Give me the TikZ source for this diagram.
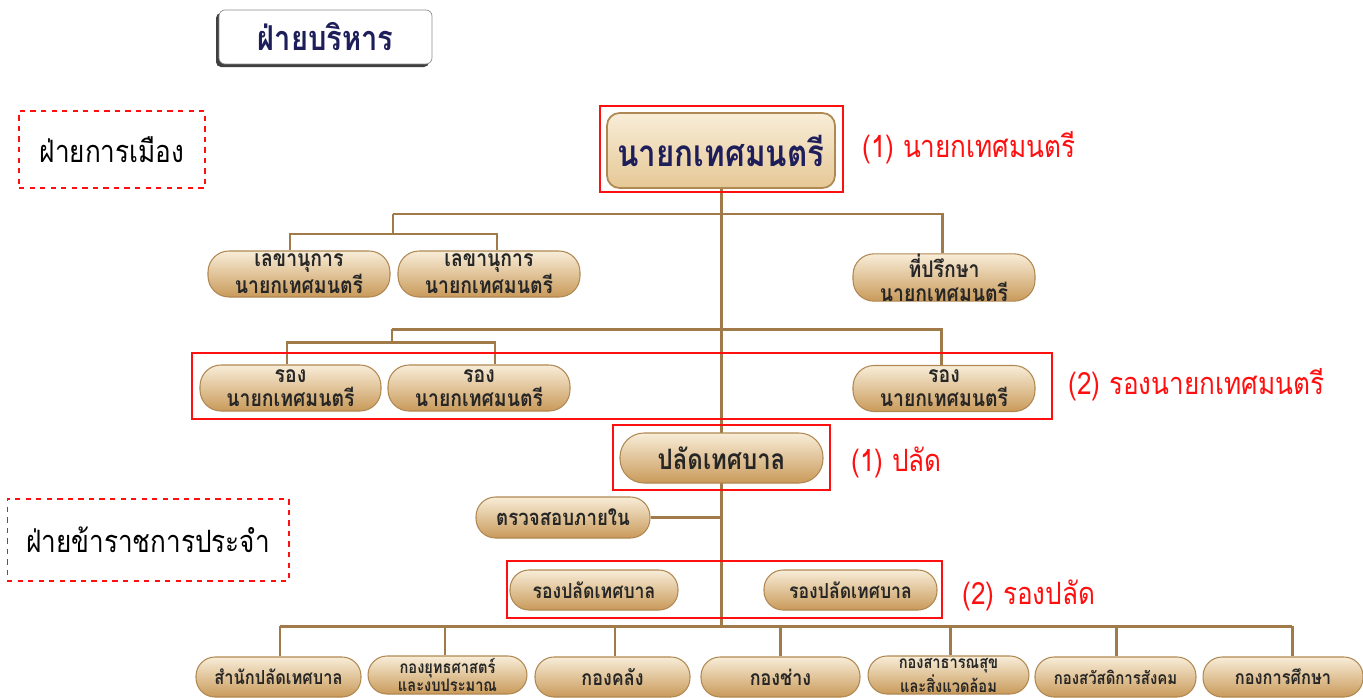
\documentclass[tikz,border=0pt]{standalone}
\usepackage{fontspec}
\setmainfont[Script=Thai,FakeStretch=0.85]{Loma}
\usetikzlibrary{calc}
\pgfdeclarelayer{bottom}
\pgfdeclarelayer{background}
\pgfsetlayers{bottom,background,main}
\definecolor{conn}{HTML}{A07A48}
\definecolor{pilltop}{HTML}{F8EDD8}
\definecolor{pillmid}{HTML}{EDD3A4}
\definecolor{pillbot}{HTML}{C99A5A}
\definecolor{pilledge}{HTML}{B08852}
\definecolor{navy}{HTML}{1E1E5A}
\definecolor{ink}{HTML}{262626}
\definecolor{redc}{HTML}{FF1010}
\tikzset{
  pill/.style={rounded corners=0.42cm, top color=pilltop, middle color=pillmid, bottom color=pillbot,
     draw=pilledge, line width=0.6pt, text=ink, font=\bfseries\fontsize{13}{13.5}\selectfont,
     align=center, inner sep=0pt, minimum height=0.92cm},
  conline/.style={draw=conn, line width=1.7pt},
  redbox/.style={draw=redc, line width=1.3pt},
  dashbox/.style={draw=redc, dashed, line width=0.6pt, inner sep=0pt, font=\fontsize{17.5}{20}\selectfont},
  redlabel/.style={text=redc, anchor=west, inner sep=0pt, font=\fontsize{17.5}{20}\selectfont}
}
\begin{document}
\begin{tikzpicture}[x=0.02cm,y=-0.02cm]
\begin{pgfonlayer}{bottom}
\fill[white] (0,0) rectangle (1363,697);
\end{pgfonlayer}
\useasboundingbox (0,0) rectangle (1363,697);
% title
\fill[black!75, rounded corners=0.1cm] (216,13) rectangle (429,67);
\node[draw=black!45, fill=white, rounded corners=0.12cm, minimum width=4.26cm, minimum height=1.08cm,
  text=navy, font=\bfseries\fontsize{19.5}{22}\selectfont] (title) at (325.5,37) {ฝ่ายบริหาร};
% dashed boxes
\node[dashbox, minimum width=3.72cm, minimum height=1.54cm] (pol) at (112,149.5) {ฝ่ายการเมือง};
\node[dashbox, minimum width=5.64cm, minimum height=1.64cm] (civ) at (148,540) {ฝ่ายข้าราชการประจำ};
% mayor
\node[rounded corners=0.25cm, top color=pilltop, bottom color=pillmid!80!pillbot, draw=pilledge, line width=1pt,
  minimum width=4.56cm, minimum height=1.5cm, text=navy, font=\bfseries\fontsize{21}{24}\selectfont] (mayor) at (721,150.5) {นายกเทศมนตรี};
\node[redbox, minimum width=4.86cm, minimum height=1.72cm] (mayorR) at (721.5,149) {};
\node[redlabel] (l1) at (862,148) {(1) นายกเทศมนตรี};
% secretaries / advisor
\node[pill, minimum width=3.64cm] (sec1) at (299,274) {เลขานุการ\\นายกเทศมนตรี};
\node[pill, minimum width=3.64cm] (sec2) at (489,274) {เลขานุการ\\นายกเทศมนตรี};
\node[pill, minimum width=3.64cm] (adv) at (944,277.5) {ที่ปรึกษา\\นายกเทศมนตรี};
% deputies
\node[pill, minimum width=3.62cm] (dep1) at (290.5,388) {รอง\\นายกเทศมนตรี};
\node[pill, minimum width=3.64cm] (dep2) at (479,388) {รอง\\นายกเทศมนตรี};
\node[pill, minimum width=3.64cm] (dep3) at (944,388.5) {รอง\\นายกเทศมนตรี};
\node[redbox, minimum width=17.2cm, minimum height=1.32cm] (depR) at (622,386) {};
\node[redlabel] (l2) at (1068,385) {(2) รองนายกเทศมนตรี};
% palat
\node[pill, minimum width=4.06cm, minimum height=1.0cm, rounded corners=0.48cm, font=\bfseries\fontsize{16}{18}\selectfont] (palat) at (721.5,458) {ปลัดเทศบาล};
\node[redbox, minimum width=4.34cm, minimum height=1.3cm] (palatR) at (721.5,457.5) {};
\node[redlabel] (l3) at (851,462) {(1) ปลัด};
% audit
\node[pill, minimum width=3.48cm, minimum height=0.82cm, rounded corners=0.39cm, font=\bfseries\fontsize{12.5}{14}\selectfont] (audit) at (563,517.5) {ตรวจสอบภายใน};
% deputy palat
\node[pill, minimum width=3.36cm, minimum height=0.8cm, rounded corners=0.38cm, font=\bfseries\fontsize{11.8}{14}\selectfont] (dp1) at (594,590) {รองปลัดเทศบาล};
\node[pill, minimum width=3.46cm, minimum height=0.8cm, rounded corners=0.38cm, font=\bfseries\fontsize{11.8}{14}\selectfont] (dp2) at (850.5,590) {รองปลัดเทศบาล};
\node[redbox, minimum width=8.7cm, minimum height=1.14cm] (dpR) at (724.5,589.5) {};
\node[redlabel] (l4) at (962,595) {(2) รองปลัด};
% bottom divisions
\tikzset{bpill/.style={pill, minimum height=0.8cm, rounded corners=0.38cm, font=\bfseries\fontsize{11}{12}\selectfont}}
\node[bpill, minimum width=3.3cm] (b1) at (278.5,677) {สำนักปลัดเทศบาล};
\node[bpill, minimum width=3.18cm, minimum height=0.76cm, font=\bfseries\fontsize{9.8}{8.8}\selectfont] (b2) at (447.5,675) {กองยุทธศาสตร์\\และงบประมาณ};
\node[bpill, minimum width=3.1cm, font=\bfseries\fontsize{12}{12}\selectfont] (b3) at (612.5,677) {กองคลัง};
\node[bpill, minimum width=3.18cm, font=\bfseries\fontsize{12}{12}\selectfont] (b4) at (780.5,677) {กองช่าง};
\node[bpill, minimum width=3.22cm, minimum height=0.76cm, font=\bfseries\fontsize{9.8}{8.8}\selectfont] (b5) at (948.5,675) {กองสาธารณสุข\\และสิ่งแวดล้อม};
\node[bpill, minimum width=3.22cm, font=\bfseries\fontsize{10}{12}\selectfont] (b6) at (1115.5,677) {กองสวัสดิการสังคม};
\node[bpill, minimum width=3.2cm, font=\bfseries\fontsize{11}{12}\selectfont] (b7) at (1283,677) {กองการศึกษา};
% connectors
\coordinate (tb) at (721,626);
\coordinate (h1l) at (393,214);
\coordinate (h1r) at (942,214);
\coordinate (h1m) at (393,234);
\coordinate (s1) at (290,234);
\coordinate (s2) at (497,234);
\coordinate (h2l) at (392,329);
\coordinate (h2r) at (941,329);
\coordinate (h2m) at (392,342);
\coordinate (d1) at (287,342);
\coordinate (d2) at (495,342);
\coordinate (v1) at (280,626);
\coordinate (v2) at (445,626);
\coordinate (v3) at (615,626);
\coordinate (v4) at (780,626);
\coordinate (v5) at (950,626);
\coordinate (v6) at (1116,626);
\coordinate (v7) at (1292,626);
\begin{pgfonlayer}{background}
\draw[conline] (mayor.south) -- (tb);
\draw[conline] (h1l) -- (h1r) -- (h1r |- adv.north);
\draw[conline] (h1l) -- (h1m);
\draw[conline] (s1 |- sec1.north) -- (s1) -- (s2) -- (s2 |- sec2.north);
\draw[conline] (h2l) -- (h2r) -- (h2r |- dep3.north);
\draw[conline] (h2l) -- (h2m);
\draw[conline] (d1 |- dep1.north) -- (d1) -- (d2) -- (d2 |- dep2.north);
\draw[conline] (audit.east) -- (audit.east -| tb);
\draw[conline] (v1) -- (v7);
\draw[conline] (v1) -- (v1 |- b1.north);
\draw[conline] (v2) -- (v2 |- b2.north);
\draw[conline] (v3) -- (v3 |- b3.north);
\draw[conline] (v4) -- (v4 |- b4.north);
\draw[conline] (v5) -- (v5 |- b5.north);
\draw[conline] (v6) -- (v6 |- b6.north);
\draw[conline] (v7) -- (v7 |- b7.north);
\end{pgfonlayer}
\end{tikzpicture}
\end{document}
